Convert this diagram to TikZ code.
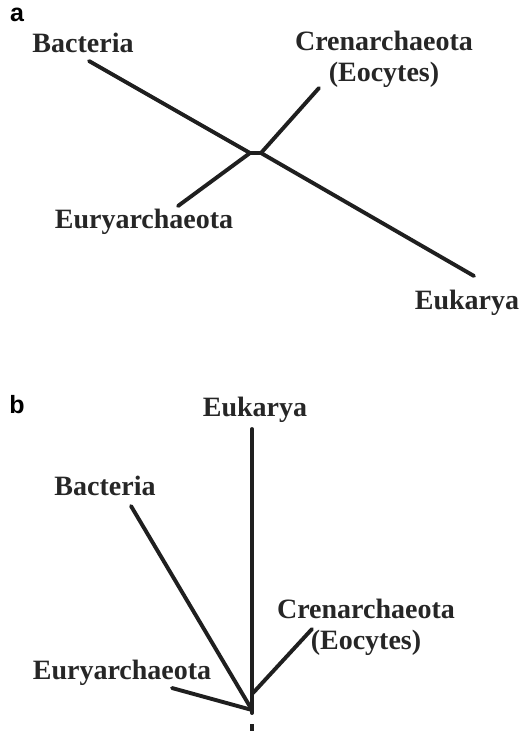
\documentclass[tikz,border=0pt]{standalone}
\usepackage{fontspec}
\setmainfont{Liberation Serif}
\newfontfamily\panelfont{Liberation Sans}
\begin{document}
\begin{tikzpicture}[x=1pt,y=-1pt,
  taxon/.style={font=\fontsize{28}{31}\selectfont\bfseries, text=black!85, inner sep=0pt, align=center},
  panel/.style={font=\panelfont\fontsize{25}{27}\selectfont\bfseries, inner sep=0pt},
  branch/.style={line width=3.9pt, draw=black!88, line cap=round}]
\useasboundingbox (0,0) rectangle (527,733);

% ---- panel a: unrooted tree ----
\node[panel] (pa) at (17,15) {a};
\node[taxon] (bacA) at (83,43) {Bacteria};
\node[taxon] (creA) at (384,59) {Crenarchaeota\\(Eocytes)};
\node[taxon] (eurA) at (144,222) {Euryarchaeota};
\node[taxon] (eukA) at (467,303) {Eukarya};

\coordinate (jl) at (250,153);
\coordinate (jr) at (261,153);
\coordinate (tBacA) at (89,61);
\coordinate (tCreA) at (319,88);
\coordinate (tEurA) at (178,206);
\coordinate (tEukA) at (474,276);

\draw[branch] (tBacA) -- (jl) -- (jr) -- (tEukA);
\draw[branch] (tEurA) -- (jl);
\draw[branch] (jr) -- (tCreA);

% ---- panel b: rooted tree ----
\node[panel] (pb) at (17,405) {b};
\node[taxon] (eukB) at (255,410) {Eukarya};
\node[taxon] (bacB) at (105,486) {Bacteria};
\node[taxon] (creB) at (366,627) {Crenarchaeota\\(Eocytes)};
\node[taxon] (eurB) at (122,673) {Euryarchaeota};

\coordinate (root) at (252,713);
\coordinate (rootA) at (252,710);
\coordinate (rootC) at (253,693);
\coordinate (tEukB) at (252,429);
\coordinate (tBacB) at (131,506);
\coordinate (tCreB) at (312,629);
\coordinate (tEurB) at (172,688);
\coordinate (stemTop) at (252,724);
\coordinate (stemBot) at (252,731);

\draw[branch] (tEukB) -- (root);
\draw[branch] (tBacB) -- (rootA);
\draw[branch] (tEurB) -- (rootA);
\draw[branch] (rootC) -- (tCreB);
\draw[branch, line cap=butt] (stemTop) -- (stemBot);
\end{tikzpicture}
\end{document}
